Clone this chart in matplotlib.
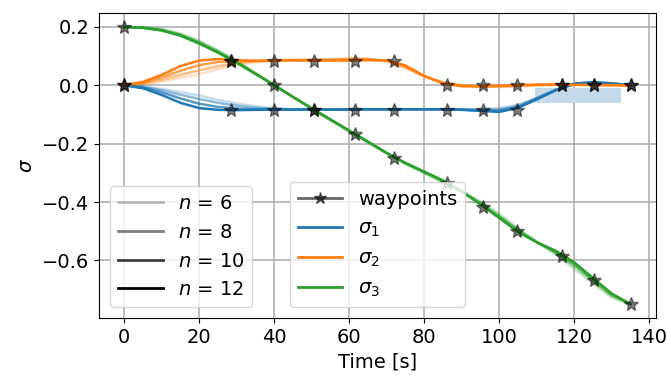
import matplotlib

matplotlib.use("Agg")
import matplotlib.pyplot as plt
from matplotlib.lines import Line2D

# Sample times of the optimised trajectories [s]
t = [0, 5, 10, 15, 20, 25, 30, 35, 40, 45, 50, 55, 60, 65,
     70, 75, 80, 85, 90, 95, 100, 105, 110, 115, 120, 125, 130, 135]

# sigma_1 for each number of basis functions n
s1_n6 = [0.000, -0.004, -0.012, -0.023, -0.035, -0.050, -0.062, -0.072, -0.078, -0.082,
         -0.083, -0.083, -0.083, -0.082, -0.082, -0.082, -0.082, -0.082, -0.082, -0.082,
         -0.078, -0.066, -0.042, -0.015, 0.003, 0.006, 0.004, 0.000]
s1_n8 = [0.000, -0.005, -0.017, -0.032, -0.047, -0.060, -0.070, -0.077, -0.081, -0.083,
         -0.083, -0.083, -0.083, -0.082, -0.082, -0.082, -0.082, -0.082, -0.083, -0.084,
         -0.083, -0.071, -0.044, -0.016, 0.004, 0.008, 0.005, 0.000]
s1_n10 = [0.000, -0.007, -0.024, -0.045, -0.063, -0.074, -0.080, -0.082, -0.083, -0.083,
          -0.083, -0.083, -0.083, -0.082, -0.082, -0.082, -0.082, -0.082, -0.083, -0.086,
          -0.087, -0.074, -0.046, -0.016, 0.005, 0.010, 0.006, 0.000]
s1_n12 = [0.000, -0.010, -0.033, -0.060, -0.078, -0.084, -0.085, -0.084, -0.083, -0.083,
          -0.083, -0.083, -0.083, -0.082, -0.082, -0.082, -0.082, -0.082, -0.084, -0.088,
          -0.091, -0.077, -0.048, -0.017, 0.006, 0.011, 0.007, 0.000]

# sigma_2
s2_n6 = [0.000, 0.004, 0.013, 0.025, 0.038, 0.056, 0.070, 0.079, 0.085, 0.088,
         0.088, 0.090, 0.093, 0.092, 0.082, 0.058, 0.030, 0.010, 0.000, -0.005,
         -0.006, -0.004, 0.000, 0.003, 0.004, 0.002, 0.001, 0.000]
s2_n8 = [0.000, 0.006, 0.019, 0.036, 0.052, 0.066, 0.076, 0.082, 0.085, 0.087,
         0.087, 0.088, 0.091, 0.090, 0.084, 0.062, 0.031, 0.009, -0.001, -0.004,
         -0.004, -0.002, 0.001, 0.003, 0.003, 0.002, 0.001, 0.000]
s2_n10 = [0.000, 0.009, 0.027, 0.050, 0.069, 0.080, 0.083, 0.084, 0.085, 0.086,
          0.086, 0.086, 0.088, 0.088, 0.085, 0.065, 0.032, 0.008, -0.002, -0.003,
          -0.002, 0.000, 0.002, 0.002, 0.002, 0.001, 0.001, 0.000]
s2_n12 = [0.000, 0.012, 0.036, 0.066, 0.085, 0.090, 0.086, 0.084, 0.085, 0.086,
          0.085, 0.085, 0.085, 0.086, 0.086, 0.068, 0.032, 0.006, -0.003, -0.003,
          -0.001, 0.001, 0.002, 0.002, 0.002, 0.001, 0.001, 0.000]

# sigma_3
s3_n6 = [0.200, 0.199, 0.193, 0.178, 0.153, 0.121, 0.084, 0.043, 0.002, -0.040,
         -0.080, -0.120, -0.158, -0.196, -0.233, -0.270, -0.302, -0.333, -0.363, -0.398,
         -0.440, -0.490, -0.537, -0.580, -0.630, -0.680, -0.728, -0.750]
s3_n8 = [0.200, 0.198, 0.191, 0.175, 0.149, 0.117, 0.081, 0.041, 0.001, -0.040,
         -0.080, -0.119, -0.157, -0.195, -0.233, -0.268, -0.299, -0.330, -0.364, -0.403,
         -0.447, -0.495, -0.537, -0.575, -0.620, -0.672, -0.722, -0.750]
s3_n10 = [0.200, 0.197, 0.189, 0.172, 0.146, 0.114, 0.079, 0.040, 0.000, -0.040,
          -0.079, -0.118, -0.156, -0.194, -0.232, -0.267, -0.297, -0.328, -0.364, -0.406,
          -0.451, -0.499, -0.538, -0.571, -0.613, -0.666, -0.717, -0.750]
s3_n12 = [0.200, 0.197, 0.188, 0.170, 0.143, 0.112, 0.077, 0.039, 0.000, -0.040,
          -0.079, -0.117, -0.155, -0.193, -0.232, -0.266, -0.296, -0.326, -0.364, -0.409,
          -0.455, -0.503, -0.538, -0.567, -0.607, -0.661, -0.714, -0.750]

# waypoints the trajectories have to follow
wp_t = [0, 28.6, 39.8, 50.6, 61.4, 72.0, 86.0, 95.7, 104.6, 116.8, 125.2, 135.0]
wp_s1 = [0, -1/12, -1/12, -1/12, -1/12, -1/12, -1/12, -1/12, -1/12, 0, 0, 0]
wp_s2 = [0, 1/12, 1/12, 1/12, 1/12, 1/12, 0, 0, 0, 0, 0, 0]
wp_s3 = [0.2, 1/12, 0, -1/12, -2/12, -3/12, -4/12, -5/12, -6/12, -7/12, -8/12, -9/12]

n_values = [6, 8, 10, 12]
n_alpha = [0.25, 0.5, 0.75, 1.0]

# region highlighted on the final approach
box_t = [109.6, 132.5]
box_lo = -0.060
box_hi = -0.010

curves = {
    6: [s1_n6, s2_n6, s3_n6],
    8: [s1_n8, s2_n8, s3_n8],
    10: [s1_n10, s2_n10, s3_n10],
    12: [s1_n12, s2_n12, s3_n12],
}
colors = ["C0", "C1", "C2"]

plt.rcParams["font.size"] = 14

fig, ax = plt.subplots(figsize=(6.68, 3.75), dpi=100)
fig.subplots_adjust(left=0.148, right=0.982, bottom=0.152, top=0.965)

ax.fill_between(box_t, box_lo, box_hi, color="#c4daec", lw=0, zorder=1.5)

for n, a in zip(n_values, n_alpha):
    for s, c in zip(curves[n], colors):
        ax.plot(t, s, color=c, alpha=a, lw=1.8, solid_joinstyle="round")

for wp in (wp_s1, wp_s2, wp_s3):
    ax.plot(wp_t, wp, "*", color="k", alpha=0.5, ms=10, zorder=5)

ax.grid(True, color="#b0b0b0", lw=1.2)
ax.set_axisbelow(True)
ax.set_xticks([0, 20, 40, 60, 80, 100, 120, 140])
ax.set_yticks([0.2, 0.0, -0.2, -0.4, -0.6])
ax.set_xlabel("Time [s]")
ax.set_ylabel(r"$\sigma$")

n_handles = [Line2D([], [], color="k", alpha=a, lw=2) for a in n_alpha]
n_labels = [rf"$n$ = {n}" for n in n_values]
leg1 = ax.legend(n_handles, n_labels, loc="lower left", handlelength=2.3,
                 bbox_to_anchor=(0.02, 0.036), borderaxespad=0)
ax.add_artist(leg1)

s_handles = [Line2D([], [], color="k", alpha=0.6, lw=2, marker="*", ms=9)]
s_handles += [Line2D([], [], color=c, lw=2) for c in colors]
s_labels = ["waypoints", r"$\sigma_1$", r"$\sigma_2$", r"$\sigma_3$"]
ax.legend(s_handles, s_labels, loc="lower left", handlelength=2.3,
          bbox_to_anchor=(0.343, 0.036), borderaxespad=0)

fig.savefig("out.png", dpi=100)
